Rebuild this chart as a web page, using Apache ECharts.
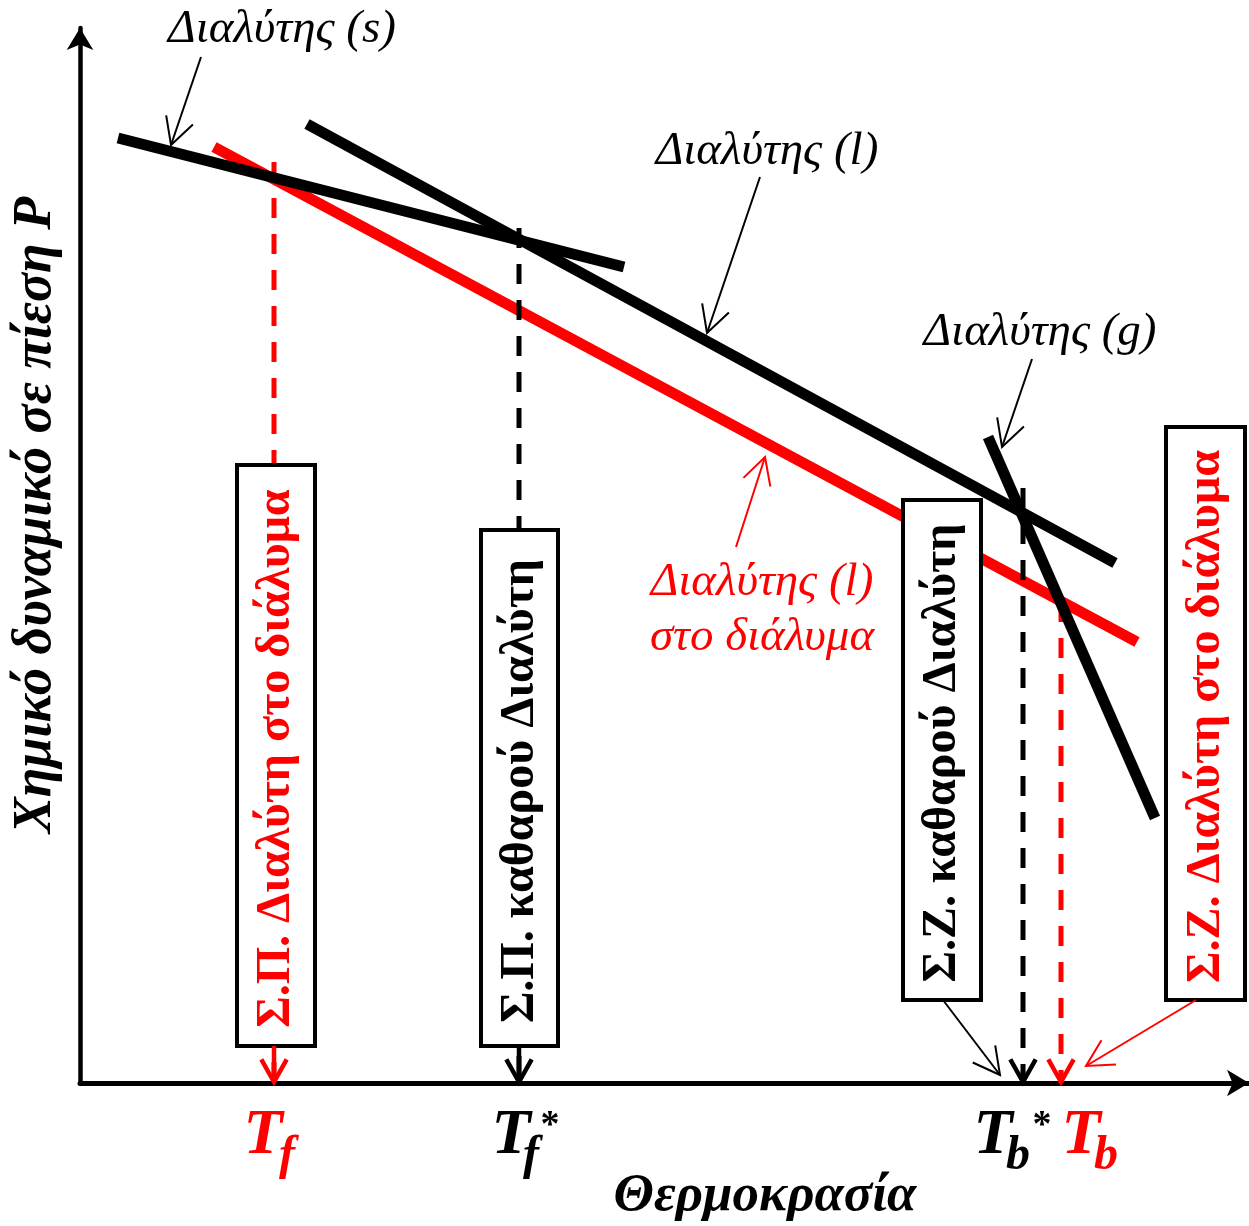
<!DOCTYPE html>
<html><head><meta charset="utf-8">
<script src="https://cdn.jsdelivr.net/npm/echarts@6/dist/echarts.min.js"></script>
<style>html,body{margin:0;padding:0;background:#fff}#c{width:1249px;height:1226px}</style>
</head><body><div id="c"></div>
<script>
// ---------------- DATA (schematic units: x = temperature, y = chemical potential) ----------------
const solventSolid      = [[38, 945], [544, 816]];   // Διαλύτης (s)
const solventLiquid     = [[227, 959], [1035, 520]]; // Διαλύτης (l)
const solventInSolution = [[134, 936], [1057, 441]]; // Διαλύτης (l) στο διάλυμα
const solventGas        = [[908, 646], [1075, 265]]; // Διαλύτης (g)
const transitionTemps   = [194, 439, 943, 981];      // Tf, Tf*, Tb*, Tb
const transitionMu      = [921, 855, 595, 481];      // where each drop line starts
const transitionNames   = ['Tf', 'Tf*', 'Tb*', 'Tb'];
const boxLabels = ['Σ.Π. Διαλύτη στο διάλυμα', 'Σ.Π. καθαρού Διαλύτη', 'Σ.Ζ. καθαρού Διαλύτη', 'Σ.Ζ. Διαλύτη στο διάλυμα'];

// ---------------- LAYOUT (chart units) ----------------
const RED = '#ff0000', BLACK = '#000000';
const SERIF = '"Liberation Serif", "Times New Roman", serif';
const boxLayout = [ // [x1, x2, yBottom, yTop]
  [157, 235, 37, 618], [401, 478, 37, 553], [823, 901, 83, 583], [1086, 1165, 83, 656]
];
const boxColors = [RED, BLACK, BLACK, RED];
const thinArrowsBlack = [[121, 1026, 91, 938], [680, 906, 627, 750], [952, 724, 922, 636], [863, 83, 920, 8]];
const thinArrowsRed   = [[656, 536, 685, 626], [1116, 83, 1006, 17]];
const annotationTexts = [
  {text: 'Διαλύτης (s)', x: 202, y: 1053, color: BLACK},
  {text: 'Διαλύτης (l)', x: 687, y: 931, color: BLACK},
  {text: 'Διαλύτης (g)', x: 960, y: 750, color: BLACK},
  {text: 'Διαλύτης (l)', x: 682, y: 500, color: RED},
  {text: 'στο διάλυμα', x: 682, y: 445, color: RED}
];
const tickLayout = [ // offsets in px from tick position
  {sub: 'f', color: RED,   tdx: -11, sdx: 13, star: null},
  {sub: 'f', color: BLACK, tdx: -8,  sdx: 12, star: 31},
  {sub: 'b', color: BLACK, tdx: -30, sdx: -5, star: 19},
  {sub: 'b', color: RED,   tdx: 20,  sdx: 45, star: null}
];

const chart = echarts.init(document.getElementById('c'));

function lineSeries(data, color, width, z, dashed) {
  return {type: 'line', data, symbol: 'none', silent: true, z, animation: false,
    lineStyle: {color, width, type: dashed ? [20, 16] : 'solid', cap: 'butt'}};
}

function arrowSeries(items, color, width, headLen, headAngle, z) {
  return {type: 'custom', clip: false, silent: true, z, animation: false,
    data: items, encode: {x: [0, 2], y: [1, 3]},
    renderItem(params, api) {
      const a = api.coord([api.value(0), api.value(1)]);
      const b = api.coord([api.value(2), api.value(3)]);
      const dx = b[0] - a[0], dy = b[1] - a[1], len = Math.hypot(dx, dy);
      const vx = -dx / len, vy = -dy / len;
      const wing = s => {
        const c = Math.cos(s * headAngle), sn = Math.sin(s * headAngle);
        return [b[0] + headLen * (vx * c - vy * sn), b[1] + headLen * (vx * sn + vy * c)];
      };
      const st = {stroke: color, lineWidth: width, fill: null, lineJoin: 'miter', lineCap: 'butt'};
      return {type: 'group', children: [
        {type: 'line', shape: {x1: a[0], y1: a[1], x2: b[0], y2: b[1]}, style: st},
        {type: 'polyline', shape: {points: [wing(1), b, wing(-1)]}, style: st}
      ]};
    }};
}

const series = [
  lineSeries(solventInSolution, RED, 11, 2),
  ...transitionTemps.map((t, i) => lineSeries([[t, transitionMu[i]], [t, 0]], (i === 0 || i === 3) ? RED : BLACK, 5, 3, true)),
  lineSeries(solventSolid, BLACK, 11, 4),
  lineSeries(solventLiquid, BLACK, 11, 4),
  lineSeries(solventGas, BLACK, 11, 4),
  {type: 'custom', clip: false, silent: true, z: 5, animation: false,
    data: boxLayout, encode: {x: [0, 1], y: [2, 3]},
    renderItem(params, api) {
      const i = params.dataIndex;
      const p1 = api.coord([api.value(0), api.value(3)]);
      const p2 = api.coord([api.value(1), api.value(2)]);
      return {type: 'group', children: [
        {type: 'rect', shape: {x: p1[0], y: p1[1], width: p2[0] - p1[0], height: p2[1] - p1[1]},
          style: {fill: '#fff', stroke: '#000', lineWidth: 4}},
        {type: 'text', x: (p1[0] + p2[0]) / 2 + 1, y: (p1[1] + p2[1]) / 2 + 3, rotation: Math.PI / 2,
          style: {text: boxLabels[i], fill: boxColors[i], font: 'bold 48px ' + SERIF, align: 'center', verticalAlign: 'middle'}}
      ]};
    }},
  arrowSeries(transitionTemps.map(t => [t, 37, t, 1]).filter((d, i) => i === 1), BLACK, 4.5, 26, 0.51, 6),
  arrowSeries(transitionTemps.map(t => [t, 37, t, 1]).filter((d, i) => i === 0), RED, 4.5, 26, 0.51, 6),
  arrowSeries(transitionTemps.map(t => [t, 12, t, 1]).filter((d, i) => i === 2), BLACK, 4.5, 26, 0.51, 6),
  arrowSeries(transitionTemps.map(t => [t, 12, t, 1]).filter((d, i) => i === 3), RED, 4.5, 26, 0.51, 6),
  arrowSeries(thinArrowsBlack, BLACK, 2, 30, 0.49, 6),
  arrowSeries(thinArrowsRed, RED, 2, 30, 0.49, 6),
  {type: 'custom', clip: false, silent: true, z: 7, animation: false,
    data: annotationTexts.map(d => [d.x, d.y]),
    renderItem(params, api) {
      const d = annotationTexts[params.dataIndex];
      const p = api.coord([api.value(0), api.value(1)]);
      return {type: 'text', x: p[0], y: p[1],
        style: {text: d.text, fill: d.color, font: 'italic 47px ' + SERIF, align: 'center', verticalAlign: 'middle'}};
    }},
  {type: 'custom', clip: false, silent: true, z: 7, animation: false,
    data: transitionTemps.map(t => [t, 0]),
    renderItem(params, api) {
      const L = tickLayout[params.dataIndex];
      const p = api.coord([api.value(0), 0]);
      const kids = [
        {type: 'text', x: p[0] + L.tdx, y: p[1] + 53,
          style: {text: 'T', fill: L.color, font: 'bold italic 64px ' + SERIF, align: 'center', verticalAlign: 'middle'}},
        {type: 'text', x: p[0] + L.sdx, y: p[1] + 74,
          style: {text: L.sub, fill: L.color, font: 'bold italic 48px ' + SERIF, align: 'center', verticalAlign: 'middle'}}
      ];
      if (L.star !== null) kids.push({type: 'text', x: p[0] + L.star, y: p[1] + 43,
          style: {text: '*', fill: L.color, font: 'bold 38px ' + SERIF, align: 'center', verticalAlign: 'middle'}});
      return {type: 'group', children: kids};
    }}
];

chart.setOption({
  animation: false,
  backgroundColor: '#fff',
  grid: {left: 80, right: 0, top: 28, bottom: 143, containLabel: false},
  xAxis: {type: 'value', min: 0, max: 1169,
    axisLine: {show: true, onZero: false, lineStyle: {color: '#000', width: 5}, symbol: ['none', 'arrow'], symbolSize: [20, 22]},
    axisTick: {show: false}, axisLabel: {show: false}, splitLine: {show: false}},
  yAxis: {type: 'value', min: 0, max: 1055,
    axisLine: {show: true, onZero: false, lineStyle: {color: '#000', width: 4.5}, symbol: ['none', 'arrow'], symbolSize: [20, 22]},
    axisTick: {show: false}, axisLabel: {show: false}, splitLine: {show: false}},
  graphic: [
    {type: 'text', x: 765, y: 1196, style: {text: 'Θερμοκρασία', fill: '#000', font: 'bold italic 53px ' + SERIF, align: 'center', verticalAlign: 'middle'}},
    {type: 'text', x: 36, y: 515, rotation: Math.PI / 2, style: {text: 'Χημικό δυναμικό σε πίεση P', fill: '#000', font: 'bold italic 54px ' + SERIF, align: 'center', verticalAlign: 'middle'}}
  ],
  series
});
</script>
</body></html>
